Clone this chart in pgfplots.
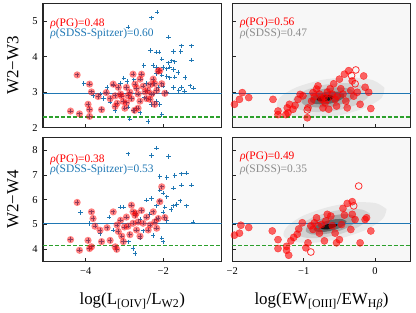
\documentclass[border=0pt]{standalone}
\usepackage{pgfplots}
\pgfplotsset{compat=1.18}
\usepackage{pgfplotstable}
\usepackage{fontspec}
\setmainfont{Liberation Serif}
\definecolor{tabblue}{RGB}{31,119,180}
\definecolor{tabgreen}{RGB}{44,160,44}

% top-left: SDSS-Spitzer
\pgfplotstableread{
x y
-2.16 5.26
-2.30 5.10
-2.91 4.84
-1.87 4.56
-1.53 4.31
-1.27 4.31
-2.33 4.18
-2.17 4.13
-2.11 4.13
-1.74 4.15
-1.55 4.15
-1.27 3.91
-2.04 3.94
-1.78 3.89
-1.70 3.86
-1.87 3.83
-2.50 3.75
-2.26 3.75
-2.17 3.70
-2.00 3.70
-1.91 3.66
-1.83 3.71
-1.74 3.64
-1.44 3.42
-1.62 3.56
-2.17 3.52
-2.04 3.48
-1.91 3.45
-1.83 3.41
-1.70 3.43
-1.31 3.18
-1.22 3.12
-1.53 3.14
-1.74 3.14
-2.00 3.17
-2.13 3.14
-2.26 3.25
-2.43 3.25
-2.59 3.37
-2.76 3.35
-2.93 3.30
-3.10 3.25
-3.02 3.40
-3.28 3.20
-3.45 3.14
-3.63 2.95
-4.05 3.25
-3.81 2.90
-3.54 2.82
-3.37 2.72
-3.24 2.48
-2.91 2.58
-2.78 2.48
-2.69 2.55
-2.60 2.42
-2.39 2.18
-2.04 2.37
-2.09 2.66
-2.17 2.74
-2.86 2.24
-2.48 2.84
-2.26 2.95
-1.91 3.00
-2.30 2.65
-1.60 3.05
-1.45 3.02
-2.70 3.10
-2.40 3.05
}\TLsdss

\pgfplotstableread{
x y
-4.22 3.49
-3.90 3.23
-4.39 2.47
-4.16 2.39
-3.90 2.51
-3.94 2.66
-3.90 2.32
-3.85 3.01
-3.68 2.88
-3.59 2.51
-3.47 2.99
-3.29 3.23
-3.24 2.90
-3.37 2.82
-3.16 3.14
-3.19 2.69
-3.24 2.60
-3.08 2.89
-3.03 2.74
-2.99 2.55
-2.95 3.14
-2.91 2.90
-2.86 3.00
-2.82 2.82
-2.78 3.51
-2.73 3.23
-2.69 3.12
-2.65 2.95
-2.60 3.37
-2.56 3.51
-2.52 3.17
-2.47 3.01
-2.43 2.82
-2.34 3.21
-2.30 2.95
-2.26 3.37
-2.22 3.24
-2.17 3.05
-2.09 3.61
-2.04 3.24
-1.96 2.97
-2.22 2.66
-2.34 2.80
-2.65 2.55
-2.74 2.49
-2.13 3.60
-3.10 2.95
-2.95 2.70
-2.60 2.75
-2.40 3.05
}\TLpg

\pgfplotstableread{
x y
-1.97 2.66
-1.90 2.80
-1.86 2.99
-1.77 2.85
-1.43 2.80
-1.36 2.47
-1.36 2.37
-1.25 2.37
-1.22 2.42
-1.23 2.56
-1.20 2.66
-1.15 2.52
-1.12 2.63
-1.08 2.80
-1.05 2.94
-1.01 2.90
-0.95 2.28
-0.94 2.56
-0.89 2.75
-0.87 2.99
-0.85 2.87
-0.82 3.09
-0.80 3.18
-0.78 2.95
-0.75 2.80
-0.73 2.56
-0.71 2.87
-0.67 3.00
-0.65 2.52
-0.63 3.10
-0.58 3.24
-0.56 2.80
-0.54 2.61
-0.53 2.89
-0.50 3.37
-0.48 3.10
-0.43 3.51
-0.41 2.75
-0.39 2.56
-0.37 3.61
-0.34 3.05
-0.32 3.32
-0.30 2.89
-0.25 3.00
-0.21 2.66
-0.16 3.46
-0.14 3.14
-0.09 3.00
-0.06 2.54
-0.60 2.95
-0.70 2.70
-0.45 2.95
}\TRpg

\pgfplotstableread{
x y
-0.27 3.63
-0.33 3.47
-0.67 2.80
-0.28 3.24
-0.95 2.50
}\TRpgopen

\pgfplotstableread{
x y
-2.17 8.08
-2.91 7.85
-2.30 7.78
-1.87 7.74
-1.53 7.04
-1.40 7.07
-1.70 6.97
-2.09 6.94
-1.91 6.90
-1.27 6.59
-1.53 6.59
-2.09 6.39
-1.74 6.46
-2.00 6.27
-1.91 6.12
-2.09 5.95
-2.17 5.75
-1.57 5.95
-1.40 5.75
-1.74 5.75
-1.96 5.70
-2.30 6.05
-2.43 5.99
-1.23 5.10
-1.91 5.16
-2.17 5.22
-2.52 4.75
-2.60 4.45
-2.26 4.55
-2.04 4.45
-2.73 3.83
-2.78 4.03
-3.10 5.70
-4.13 5.49
-3.90 5.04
-3.63 4.64
-3.29 4.77
-3.02 5.70
-1.80 5.60
-1.65 5.80
-2.00 5.50
-2.35 5.40
-2.60 5.20
-3.40 5.30
-2.90 4.30
-2.00 4.30
}\BLsdss

\pgfplotstableread{
x y
-4.22 5.89
-4.39 4.39
-4.16 3.96
-3.94 4.36
-3.90 4.03
-3.85 4.10
-3.85 5.51
-3.81 5.24
-3.76 4.93
-3.63 4.77
-3.59 4.31
-3.45 4.87
-3.37 4.36
-3.29 5.51
-3.24 4.10
-3.19 4.98
-3.16 4.72
-3.10 5.17
-3.07 4.53
-3.03 4.31
-2.95 5.30
-2.91 4.93
-2.86 4.59
-2.82 5.78
-2.78 5.51
-2.78 5.05
-2.73 5.37
-2.69 4.78
-2.65 5.10
-2.60 4.53
-2.56 5.57
-2.52 5.05
-2.43 5.30
-2.39 4.78
-2.34 4.98
-2.26 5.51
-2.22 5.10
-2.17 4.85
-2.13 5.24
-2.09 5.92
-2.04 6.52
-1.96 5.28
-3.20 4.00
-3.00 4.90
-2.70 5.45
}\BLpg

\pgfplotstableread{
x y
-1.97 4.57
-1.88 4.97
-1.90 4.65
-1.77 4.88
-1.44 4.74
-1.36 4.39
-1.36 4.03
-1.24 4.12
-1.24 3.96
-1.21 3.76
-1.18 4.34
-1.14 4.48
-1.09 4.61
-1.07 4.82
-1.02 5.07
-0.97 4.06
-0.94 4.26
-0.87 4.80
-0.85 5.07
-0.82 5.27
-0.78 4.65
-0.71 4.34
-0.69 5.15
-0.67 5.41
-0.62 5.34
-0.56 4.65
-0.54 4.26
-0.50 4.39
-0.47 5.00
-0.45 5.65
-0.43 5.38
-0.39 5.85
-0.34 4.80
-0.32 5.41
-0.28 5.20
-0.21 4.26
-0.14 5.20
-0.12 5.27
-0.06 4.74
-0.32 5.92
-0.60 4.95
-0.75 5.00
-0.90 4.95
}\BRpg

\pgfplotstableread{
x y
-0.23 6.55
-0.90 3.89
-0.80 4.95
-0.30 5.75
}\BRpgopen

\pgfplotsset{
  base/.style={
    scale only axis, width=178.5bp, height=124bp, anchor=south west,
    axis line style={line width=1.1pt, black!85},
    tick style={black!85, line width=0.8pt},
    tick align=inside, tick pos=left, major tick length=3.5bp,
    /pgf/number format/assume math mode=true,
    tick label style={font=\fontsize{10.5}{12}\selectfont},
    label style={font=\fontsize{17}{19}\selectfont},
    ylabel style={at={(axis description cs:-0.168,0.5)}, anchor=center},
    xlabel style={at={(axis description cs:0.5,-0.348)}, anchor=base},
    xticklabel style={yshift=-2.5bp},
    yticklabel style={xshift=-2bp},
  },
}
\tikzset{ann/.style={anchor=west, font=\fontsize{11.5}{13}\selectfont, inner sep=0pt}}

\begin{document}
\begin{tikzpicture}
\useasboundingbox (0,0) rectangle (416bp,313bp);

% ---------- top-left ----------
\begin{axis}[base, at={(43bp,185.3bp)},
  xmin=-5.1, xmax=-0.5, ymin=2, ymax=5.5,
  xtick={-4,-2}, xticklabels={}, ytick={2,3,4,5},
  ylabel={W2−W3}]
\addplot[color=tabblue, line width=1.5pt] coordinates {(-5.1,2.97) (-0.5,2.97)};
\addplot[color=tabgreen, line width=1.5pt, dash pattern=on 4pt off 2pt] coordinates {(-5.1,2.30) (-0.5,2.30)};
\addplot[only marks, color=tabblue, mark=+, mark size=2.2bp, mark options={line width=0.9pt}] table {\TLsdss};
\addplot[only marks, color=tabblue, mark=+, mark size=2.2bp, mark options={line width=0.9pt}] table {\TLpg};
\addplot[only marks, color=red, mark=*, mark size=3.6bp, mark options={fill=red, draw opacity=0, fill opacity=0.5}] table {\TLpg};
\node[ann, text=red] at (axis description cs:0.04,0.84) {\textit{ρ}(PG)=0.48};
\node[ann, text=tabblue] at (axis description cs:0.04,0.755) {\textit{ρ}(SDSS-Spitzer)=0.60};
\end{axis}

% ---------- bottom-left ----------
\begin{axis}[base, at={(43bp,51.3bp)},
  xmin=-5.1, xmax=-0.5, ymin=3.5, ymax=8.5,
  xtick={-4,-2}, xticklabels={−4,−2}, ytick={4,5,6,7,8},
  ylabel={W2−W4},
  xlabel={log(L\textsubscript{[OIV]}/L\textsubscript{W2})}]
\addplot[color=tabblue, line width=1.5pt] coordinates {(-5.1,5.04) (-0.5,5.04)};
\addplot[color=tabgreen, line width=1.5pt, dash pattern=on 4pt off 2pt] coordinates {(-5.1,4.16) (-0.5,4.16)};
\addplot[only marks, color=tabblue, mark=+, mark size=2.2bp, mark options={line width=0.9pt}] table {\BLsdss};
\addplot[only marks, color=tabblue, mark=+, mark size=2.2bp, mark options={line width=0.9pt}] table {\BLpg};
\addplot[only marks, color=red, mark=*, mark size=3.6bp, mark options={fill=red, draw opacity=0, fill opacity=0.5}] table {\BLpg};
\node[ann, text=red] at (axis description cs:0.04,0.825) {\textit{ρ}(PG)=0.38};
\node[ann, text=tabblue] at (axis description cs:0.04,0.745) {\textit{ρ}(SDSS-Spitzer)=0.53};
\end{axis}

% ---------- top-right ----------
\begin{axis}[base, at={(232.3bp,185.3bp)},
  axis background/.style={fill=black!3},
  xmin=-2, xmax=0.5, ymin=2, ymax=5.5,
  xtick={-2,-1,0}, xticklabels={}, ytick={2,3,4,5}, yticklabels={}]
\addplot[draw=none, smooth, fill=black!9] coordinates {(0.13,3.13) (-0.03,3.34) (-0.35,3.42) (-0.74,3.35) (-1.10,3.14) (-1.33,2.86) (-1.37,2.57) (-1.21,2.36) (-0.89,2.28) (-0.50,2.35) (-0.14,2.56) (0.09,2.84) (0.13,3.13)};
\addplot[draw=none, smooth, fill=black!18] coordinates {(-0.08,3.05) (-0.20,3.20) (-0.43,3.26) (-0.71,3.21) (-0.97,3.06) (-1.13,2.86) (-1.16,2.65) (-1.04,2.50) (-0.81,2.44) (-0.53,2.49) (-0.27,2.64) (-0.11,2.84) (-0.08,3.05)};
\addplot[draw=none, smooth, fill=black!35] coordinates {(-0.28,2.99) (-0.36,3.10) (-0.52,3.14) (-0.71,3.10) (-0.89,3.00) (-1.01,2.86) (-1.03,2.71) (-0.95,2.61) (-0.79,2.57) (-0.59,2.60) (-0.41,2.71) (-0.30,2.85) (-0.28,2.99)};
\addplot[draw=none, smooth, fill=black!60] coordinates {(-0.43,2.93) (-0.48,3.00) (-0.58,3.02) (-0.71,3.00) (-0.82,2.93) (-0.90,2.84) (-0.91,2.75) (-0.86,2.68) (-0.76,2.66) (-0.63,2.68) (-0.52,2.75) (-0.44,2.84) (-0.43,2.93)};
\addplot[draw=none, smooth, fill=black!92] coordinates {(-0.58,2.88) (-0.61,2.91) (-0.66,2.92) (-0.72,2.91) (-0.78,2.88) (-0.81,2.83) (-0.82,2.79) (-0.79,2.75) (-0.74,2.74) (-0.68,2.75) (-0.62,2.78) (-0.59,2.83) (-0.58,2.88)};
\addplot[color=tabblue, line width=1.5pt] coordinates {(-2,2.97) (0.5,2.97)};
\addplot[color=tabgreen, line width=1.5pt, dash pattern=on 4pt off 2pt] coordinates {(-2,2.30) (0.5,2.30)};
\addplot[only marks, color=red, mark=*, mark size=3.6bp, mark options={fill=red, draw=red, fill opacity=0.6, draw opacity=0.6}] table {\TRpg};
\addplot[only marks, color=red, mark=o, mark size=3.4bp, mark options={line width=0.8pt, draw opacity=0.8}] table {\TRpgopen};
\node[ann, text=red] at (axis description cs:0.043,0.843) {\textit{ρ}(PG)=0.56};
\node[ann, text=black!45] at (axis description cs:0.043,0.755) {\textit{ρ}(SDSS)=0.47};
\end{axis}

% ---------- bottom-right ----------
\begin{axis}[base, at={(232.3bp,51.3bp)},
  axis background/.style={fill=black!3},
  xmin=-2, xmax=0.5, ymin=3.5, ymax=8.5,
  xtick={-2,-1,0}, xticklabels={−2,−1,0}, ytick={4,5,6,7,8}, yticklabels={},
  xlabel={log(EW\textsubscript{[OIII]}/EW\textsubscript{H\textit{β}})}]
\addplot[draw=none, smooth, fill=black!9] coordinates {(0.16,5.62) (0.01,5.86) (-0.29,5.89) (-0.66,5.70) (-1.01,5.35) (-1.23,4.92) (-1.28,4.54) (-1.13,4.30) (-0.83,4.27) (-0.46,4.46) (-0.11,4.81) (0.11,5.24) (0.16,5.62)};
\addplot[draw=none, smooth, fill=black!18] coordinates {(-0.07,5.43) (-0.18,5.60) (-0.40,5.62) (-0.66,5.49) (-0.91,5.23) (-1.07,4.92) (-1.11,4.65) (-1.00,4.48) (-0.78,4.46) (-0.52,4.59) (-0.27,4.85) (-0.11,5.16) (-0.07,5.43)};
\addplot[draw=none, smooth, fill=black!35] coordinates {(-0.25,5.27) (-0.33,5.39) (-0.48,5.41) (-0.66,5.31) (-0.84,5.14) (-0.95,4.92) (-0.97,4.73) (-0.90,4.61) (-0.75,4.60) (-0.56,4.69) (-0.39,4.87) (-0.28,5.08) (-0.25,5.27)};
\addplot[draw=none, smooth, fill=black!60] coordinates {(-0.40,5.13) (-0.45,5.21) (-0.54,5.22) (-0.66,5.16) (-0.77,5.05) (-0.84,4.91) (-0.86,4.79) (-0.81,4.71) (-0.72,4.70) (-0.60,4.76) (-0.49,4.87) (-0.42,5.01) (-0.40,5.13)};
\addplot[draw=none, smooth, fill=black!92] coordinates {(-0.53,5.02) (-0.55,5.06) (-0.60,5.06) (-0.66,5.03) (-0.71,4.97) (-0.75,4.90) (-0.76,4.84) (-0.73,4.81) (-0.68,4.80) (-0.62,4.83) (-0.57,4.89) (-0.53,4.96) (-0.53,5.02)};
\addplot[color=tabblue, line width=1.5pt] coordinates {(-2,5.04) (0.5,5.04)};
\addplot[color=tabgreen, line width=1.5pt, dash pattern=on 4pt off 2pt] coordinates {(-2,4.16) (0.5,4.16)};
\addplot[only marks, color=red, mark=*, mark size=3.6bp, mark options={fill=red, draw=red, fill opacity=0.6, draw opacity=0.6}] table {\BRpg};
\addplot[only marks, color=red, mark=o, mark size=3.4bp, mark options={line width=0.8pt, draw opacity=0.8}] table {\BRpgopen};
\node[ann, text=red] at (axis description cs:0.043,0.844) {\textit{ρ}(PG)=0.49};
\node[ann, text=black!45] at (axis description cs:0.043,0.745) {\textit{ρ}(SDSS)=0.35};
\end{axis}
\end{tikzpicture}
\end{document}
